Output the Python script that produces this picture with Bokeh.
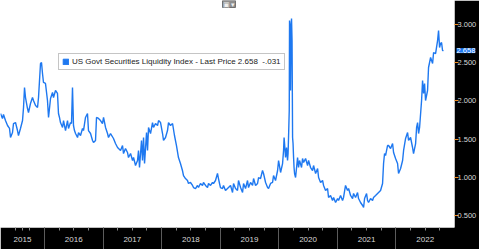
from bokeh.plotting import figure
from bokeh.models import (Range1d, LinearAxis, FixedTicker, NumeralTickFormatter,
                          Legend, LegendItem, Label)
from bokeh.embed import file_html
from bokeh.resources import INLINE

# ---- data (fractional year, index value) ----
years = [
    2015.250, 2015.284, 2015.301, 2015.335, 2015.370, 2015.404, 2015.421, 2015.455, 2015.472, 2015.506,
    2015.540, 2015.557, 2015.591, 2015.626, 2015.643, 2015.660, 2015.677, 2015.711, 2015.728, 2015.762,
    2015.796, 2015.813, 2015.848, 2015.882, 2015.899, 2015.933, 2015.950, 2015.967, 2015.984, 2016.018,
    2016.052, 2016.070, 2016.104, 2016.138, 2016.155, 2016.189, 2016.223, 2016.240, 2016.257, 2016.274,
    2016.309, 2016.326, 2016.360, 2016.394, 2016.411, 2016.445, 2016.462, 2016.479, 2016.496, 2016.513,
    2016.531, 2016.565, 2016.582, 2016.616, 2016.650, 2016.667, 2016.701, 2016.735, 2016.752, 2016.787,
    2016.821, 2016.838, 2016.872, 2016.889, 2016.923, 2016.957, 2016.991, 2017.009, 2017.043, 2017.077,
    2017.094, 2017.128, 2017.179, 2017.213, 2017.248, 2017.299, 2017.333, 2017.350, 2017.384, 2017.418,
    2017.435, 2017.470, 2017.504, 2017.521, 2017.555, 2017.589, 2017.606, 2017.623, 2017.657, 2017.674,
    2017.692, 2017.709, 2017.743, 2017.760, 2017.777, 2017.811, 2017.845, 2017.862, 2017.896, 2017.931,
    2017.948, 2017.982, 2018.016, 2018.033, 2018.067, 2018.101, 2018.118, 2018.152, 2018.187, 2018.220,
    2018.254, 2018.288, 2018.322, 2018.356, 2018.374, 2018.408, 2018.442, 2018.459, 2018.493, 2018.528,
    2018.545, 2018.579, 2018.613, 2018.630, 2018.664, 2018.698, 2018.715, 2018.750, 2018.784, 2018.801,
    2018.835, 2018.869, 2018.886, 2018.920, 2018.954, 2018.971, 2018.989, 2019.005, 2019.040, 2019.057,
    2019.091, 2019.125, 2019.177, 2019.211, 2019.228, 2019.262, 2019.296, 2019.313, 2019.348, 2019.382,
    2019.399, 2019.433, 2019.467, 2019.484, 2019.518, 2019.553, 2019.570, 2019.604, 2019.638, 2019.655,
    2019.689, 2019.723, 2019.740, 2019.775, 2019.809, 2019.826, 2019.860, 2019.894, 2019.911, 2019.945,
    2019.980, 2019.997, 2020.031, 2020.065, 2020.082, 2020.091, 2020.099, 2020.116, 2020.133, 2020.150,
    2020.159, 2020.167, 2020.179, 2020.184, 2020.193, 2020.201, 2020.210, 2020.218, 2020.227, 2020.236,
    2020.244, 2020.253, 2020.261, 2020.270, 2020.287, 2020.304, 2020.321, 2020.338, 2020.355, 2020.389,
    2020.406, 2020.424, 2020.458, 2020.492, 2020.509, 2020.543, 2020.577, 2020.594, 2020.629, 2020.663,
    2020.680, 2020.714, 2020.748, 2020.765, 2020.799, 2020.833, 2020.850, 2020.884, 2020.918, 2020.936,
    2020.970, 2021.004, 2021.021, 2021.055, 2021.089, 2021.106, 2021.140, 2021.174, 2021.192, 2021.226,
    2021.260, 2021.277, 2021.311, 2021.345, 2021.362, 2021.396, 2021.431, 2021.448, 2021.465, 2021.499,
    2021.516, 2021.533, 2021.567, 2021.601, 2021.618, 2021.653, 2021.687, 2021.704, 2021.738, 2021.772,
    2021.789, 2021.806, 2021.823, 2021.857, 2021.874, 2021.909, 2021.943, 2021.960, 2021.994, 2022.028,
    2022.045, 2022.080, 2022.114, 2022.131, 2022.165, 2022.199, 2022.216, 2022.250, 2022.284, 2022.301,
    2022.336, 2022.353, 2022.370, 2022.387, 2022.404, 2022.438, 2022.455, 2022.472, 2022.489, 2022.506,
    2022.540, 2022.557, 2022.592, 2022.626, 2022.643, 2022.677, 2022.711, 2022.728, 2022.745, 2022.762,
    2022.779, 2022.796, 2022.813,
]
liquidity_index = [
    1.835, 1.770, 1.822, 1.743, 1.678, 1.639, 1.521, 1.586, 1.704, 1.717,
    1.612, 1.547, 1.639, 1.743, 1.914, 2.175, 2.044, 1.900, 1.848, 1.966,
    2.044, 2.005, 1.940, 1.914, 2.044, 2.489, 2.502, 2.359, 2.241, 2.228,
    2.005, 1.783, 2.031, 2.110, 2.044, 2.136, 2.097, 1.835, 1.783, 1.717,
    1.652, 1.743, 1.612, 1.743, 1.639, 1.717, 1.704, 2.175, 1.678, 1.612,
    1.573, 1.521, 1.586, 1.547, 1.639, 1.612, 1.783, 1.835, 1.612, 1.573,
    1.482, 1.455, 1.482, 1.783, 1.770, 1.743, 1.704, 1.783, 1.652, 1.573,
    1.521, 1.573, 1.508, 1.442, 1.390, 1.351, 1.416, 1.311, 1.377, 1.325,
    1.259, 1.311, 1.220, 1.259, 1.154, 1.220, 1.351, 1.128, 1.482, 1.220,
    1.521, 1.180, 1.586, 1.351, 1.652, 1.573, 1.717, 1.652, 1.704, 1.678,
    1.743, 1.717, 1.573, 1.482, 1.521, 1.612, 1.717, 1.678, 1.704, 1.547,
    1.416, 1.259, 1.180, 1.089, 1.023, 0.984, 0.958, 0.919, 0.932, 0.893,
    0.866, 0.853, 0.893, 0.866, 0.919, 0.893, 0.932, 0.893, 0.866, 0.919,
    0.893, 0.932, 0.919, 0.958, 1.050, 0.984, 0.919, 0.866, 0.853, 0.893,
    0.827, 0.853, 0.893, 0.801, 0.919, 0.853, 0.827, 0.958, 0.866, 0.801,
    0.919, 0.853, 0.958, 0.866, 0.932, 0.893, 0.984, 0.893, 0.919, 0.997,
    0.984, 1.089, 1.050, 0.932, 0.866, 0.853, 0.919, 0.932, 1.023, 0.958,
    1.089, 1.220, 1.063, 1.180, 1.351, 1.521, 1.442, 1.259, 1.390, 1.220,
    1.311, 1.521, 1.874, 3.052, 2.987, 2.136, 2.921, 3.078, 2.790, 1.521,
    1.442, 1.259, 1.128, 1.050, 0.997, 1.128, 1.259, 1.128, 1.220, 1.128,
    1.246, 1.194, 1.246, 1.154, 1.220, 1.128, 1.089, 1.154, 1.050, 1.115,
    0.997, 0.932, 0.958, 0.893, 0.827, 0.853, 0.736, 0.762, 0.696, 0.736,
    0.670, 0.722, 0.696, 0.762, 0.696, 0.736, 0.893, 0.827, 0.853, 0.762,
    0.722, 0.788, 0.736, 0.801, 0.722, 0.670, 0.631, 0.605, 0.722, 0.788,
    0.696, 0.670, 0.722, 0.696, 0.736, 0.762, 0.788, 0.801, 0.827, 0.919,
    1.180, 1.311, 1.285, 1.416, 1.416, 1.377, 1.442, 1.325, 1.246, 1.180,
    1.050, 1.115, 1.220, 1.351, 1.508, 1.586, 1.482, 1.521, 1.390, 1.311,
    1.442, 1.652, 1.717, 1.573, 1.652, 2.005, 2.267, 2.097, 2.228, 2.005,
    2.136, 2.437, 2.568, 2.489, 2.633, 2.620, 2.790, 2.921, 2.699, 2.751,
    2.764, 2.660, 2.658,
]
year_labels = ["2015", "2016", "2017", "2018", "2019", "2020", "2021", "2022"]
y_ticks = [0.5, 1.0, 1.5, 2.0, 2.5, 3.0]
series_name = "US Govt Securities Liquidity Index - Last Price 2.658  -.031"
last_price = "2.658"

LINE = "#1e78f0"
FONT = "'Liberation Sans Narrow', 'Liberation Sans', Arial, sans-serif"

p = figure(width=479, height=249,
           x_range=Range1d(2015.25, 2023.0), y_range=Range1d(0.343, 3.314),
           toolbar_location=None, output_backend="svg",
           x_axis_type=None, y_axis_type=None,
           min_border=0, min_border_left=0, min_border_top=0,
           min_border_right=25, min_border_bottom=22,
           border_fill_color="black", background_fill_color="white",
           outline_line_color=None)
p.grid.visible = False

line = p.line(years, liquidity_index, line_color=LINE, line_width=1.4)
# degenerate (zero-size) quad at the last point: only used as the legend swatch
swatch = p.quad(left=[years[-1]], right=[years[-1]],
                bottom=[liquidity_index[-1]], top=[liquidity_index[-1]],
                fill_color=LINE, line_color=LINE)

# ---- x axis (black band, year labels centred, separators at year starts) ----
quarters = [2015.5 + 0.25 * i for i in range(30)]
label_pos = [2015.625] + [int(y) + 0.5 for y in year_labels[1:]]
xticks = sorted(set(quarters + label_pos))
overrides = {t: "" for t in xticks}
for pos, lab in zip(label_pos, year_labels):
    overrides[pos] = lab
xaxis = LinearAxis(ticker=FixedTicker(ticks=xticks,
                                      minor_ticks=[int(y) for y in year_labels[1:]]))
xaxis.major_label_overrides = overrides
xaxis.axis_line_color = None
xaxis.major_tick_in = 0
xaxis.major_tick_out = 3
xaxis.major_tick_line_color = "#8a8a8a"
xaxis.minor_tick_in = 0
xaxis.minor_tick_out = 22
xaxis.minor_tick_line_color = "#5c5c5c"
xaxis.major_label_standoff = -13
xaxis.major_label_text_font = FONT
xaxis.major_label_text_font_size = "8px"
xaxis.major_label_text_color = "#d8d8d8"
p.add_layout(xaxis, "below")

# ---- right side: 1) orange tick marks, 2) last-price tag, 3) tick labels ----
ytick_axis = LinearAxis(ticker=FixedTicker(ticks=y_ticks, minor_ticks=[]))
ytick_axis.major_label_overrides = {t: "" for t in y_ticks}
ytick_axis.axis_line_color = None
ytick_axis.major_tick_in = 0
ytick_axis.major_tick_out = 4
ytick_axis.minor_tick_out = 0
ytick_axis.major_tick_line_color = "#f08c1e"
ytick_axis.major_label_standoff = 0
p.add_layout(ytick_axis, "right")

tag = Label(x=2023.035, y=liquidity_index[-1],
            text=last_price, text_color="white",
            text_font=FONT, text_font_size="7.5px", text_baseline="middle",
            background_fill_color=LINE, background_fill_alpha=1)
p.add_layout(tag, "right")

ylabel_axis = LinearAxis(ticker=FixedTicker(ticks=y_ticks, minor_ticks=[]),
                         formatter=NumeralTickFormatter(format="0.000"))
ylabel_axis.axis_line_color = None
ylabel_axis.major_tick_in = 0
ylabel_axis.major_tick_out = 0
ylabel_axis.minor_tick_out = 0
ylabel_axis.major_tick_line_color = None
ylabel_axis.major_label_standoff = -20
ylabel_axis.major_label_text_font = FONT
ylabel_axis.major_label_text_font_size = "7.5px"
ylabel_axis.major_label_text_color = "#d8d8d8"
p.add_layout(ylabel_axis, "right")

# ---- legend box ----
legend = Legend(items=[LegendItem(label=series_name, renderers=[swatch])],
                location=(58, 157), orientation="horizontal",
                label_text_font=FONT, label_text_font_size="8px",
                label_text_color="#222222", label_standoff=3,
                glyph_width=7, glyph_height=7, label_height=9,
                padding=3, margin=0, spacing=0,
                border_line_color="#8c8c8c", border_line_width=1,
                background_fill_color="white", background_fill_alpha=1)
p.add_layout(legend)

# ---- small chart-type button at the top ----
btn = Label(x=2019.04, y=3.314, text="\u25a3 \u25be", text_color="#f0f0f0",
            text_font_size="7px", text_baseline="top",
            background_fill_color="#8f8f8f", background_fill_alpha=1,
            border_line_color="#6f6f6f")
p.add_layout(btn)

open("out.html", "w").write(file_html(p, INLINE))
